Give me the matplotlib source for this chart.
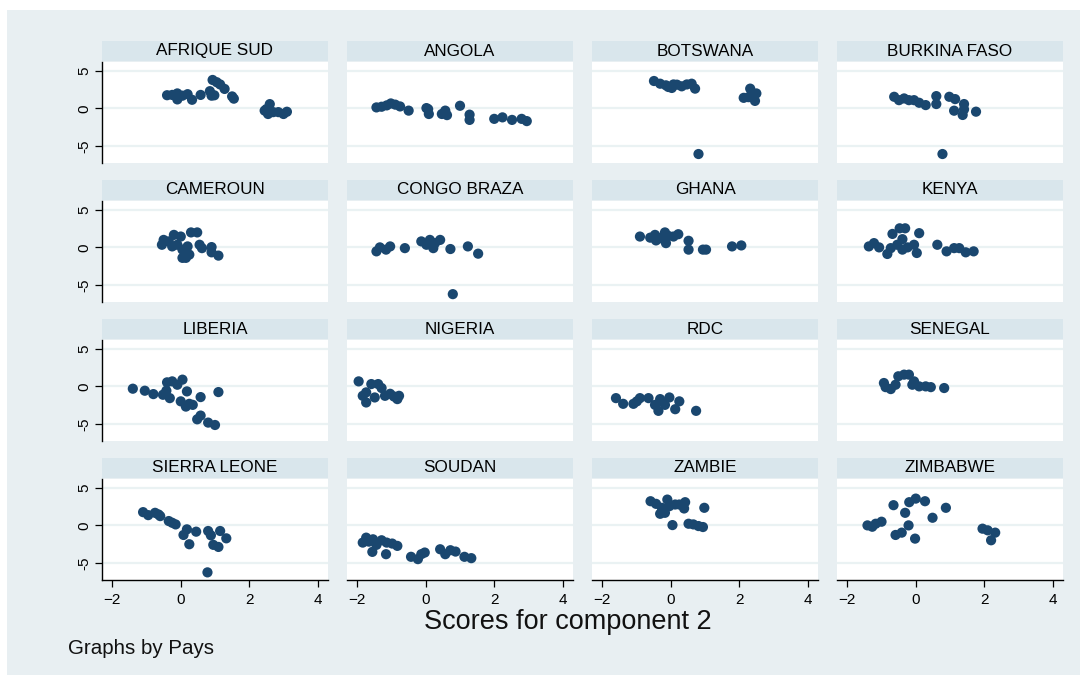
import matplotlib
matplotlib.use("Agg")
import matplotlib.pyplot as plt
from matplotlib.patches import Rectangle

plt.rcParams['font.family'] = ['Liberation Sans', 'DejaVu Sans']

countries = ["AFRIQUE SUD", "ANGOLA", "BOTSWANA", "BURKINA FASO",
             "CAMEROUN", "CONGO BRAZA", "GHANA", "KENYA",
             "LIBERIA", "NIGERIA", "RDC", "SENEGAL",
             "SIERRA LEONE", "SOUDAN", "ZAMBIE", "ZIMBABWE"]

afrique_sud_x = [-0.4, -0.25, -0.1, -0.1, 0.05, 0.2, 0.33, 0.58, 0.85, 0.9, 0.98, 0.93, 1.05, 1.15, 1.28, 1.5, 1.55,
                 2.5, 2.6, 2.55, 2.7, 2.85, 3.0, 3.1, 2.45]
afrique_sud_y = [1.76, 1.8, 2.0, 1.2, 1.7, 1.9, 1.15, 1.8, 2.3, 1.7, 1.75, 3.8, 3.5, 3.2, 2.6, 1.6, 1.3,
                 -0.1, 0.57, -0.75, -0.5, -0.5, -0.75, -0.45, -0.3]
angola_x = [-1.44, -1.29, -1.14, -1.02, -0.89, -0.75, -0.5, 0.02, 0.09, 0.07, 0.47, 0.57, 0.62, 1.0, 1.28, 1.28,
            2.0, 2.24, 2.52, 2.8, 2.95]
angola_y = [0.13, 0.22, 0.4, 0.66, 0.5, 0.26, -0.3, 0.04, -0.75, -0.1, -0.75, -0.3, -0.9, 0.35, -0.84, -1.54,
            -1.4, -1.2, -1.54, -1.4, -1.7]
botswana_x = [-0.49, -0.31, -0.14, 0.03, 0.18, 0.32, 0.47, 0.61, 0.71, -0.07, 0.08, 0.81,
              2.13, 2.32, 2.5, 2.46, 2.27, 2.37]
botswana_y = [3.66, 3.3, 3.08, 2.73, 3.17, 2.95, 3.2, 3.3, 2.64, 2.86, 3.2, -6.1,
              1.41, 2.64, 2.0, 1.0, 1.5, 1.8]
burkina_x = [-0.63, -0.49, -0.34, -0.2, -0.05, 0.1, 0.29, 0.6, 0.6, 0.98, 1.15, 1.41, 1.41, 1.12, 1.37, 1.76, 0.78]
burkina_y = [1.55, 1.1, 1.33, 1.1, 1.1, 0.75, 0.44, 1.64, 0.58, 1.55, 1.24, 0.58, -0.13, -0.31, -0.88, -0.44, -6.1]
cameroun_x = [-0.55, -0.5, -0.35, -0.2, 0.0, -0.25, -0.1, 0.05, 0.15, 0.25, 0.3, 0.48, 0.55, 0.62, 0.9, 0.9, 1.1,
              0.2, 0.05]
cameroun_y = [0.35, 1.0, 0.8, 1.67, 1.45, 0.13, 0.35, -0.3, -1.4, -0.97, 2.0, 2.0, 0.35, -0.1, 0.04, -0.66, -1.1,
              0.13, -1.4]
congo_x = [-1.44, -1.34, -1.16, -1.04, -0.61, -0.13, 0.02, 0.12, 0.22, 0.27, 0.42, 0.72, 1.23, 1.53, 0.79]
congo_y = [-0.53, 0.0, -0.3, 0.13, -0.1, 0.8, 0.35, 1.0, -0.1, 0.57, 1.0, -0.22, 0.13, -0.84, -6.25]
ghana_x = [-0.9, -0.6, -0.46, -0.31, -0.17, -0.14, -0.07, 0.08, 0.22, -0.43, 0.52, 0.52, 0.94, 1.03, 1.79, 2.06]
ghana_y = [1.45, 1.3, 1.67, 1.23, 2.0, 0.57, 1.54, 1.45, 1.76, 0.93, 0.88, -0.3, -0.3, -0.3, 0.13, 0.26]
kenya_x = [-1.37, -1.22, -1.07, -0.83, -0.73, -0.68, -0.54, -0.47, -0.31, -0.39, -0.39, -0.24, -0.05, 0.03, 0.1,
           0.63, 0.9, 1.12, 1.27, 1.46, 1.69]
kenya_y = [0.13, 0.57, 0.0, -0.88, -0.1, 1.8, 0.35, 2.55, 2.55, 1.1, -0.3, 0.0, 0.35, -0.75, 1.9,
           0.35, -0.53, -0.1, -0.1, -0.66, -0.53]
liberia_x = [-1.4, -1.05, -0.8, -0.52, -0.42, -0.32, -0.4, -0.25, -0.1, 0.05, 0.18, 0.0, 0.15, 0.25, 0.35, 0.58,
             0.48, 0.58, 0.8, 1.0, 1.1]
liberia_y = [-0.31, -0.58, -1.03, -1.12, -0.58, -1.57, 0.54, 0.67, 0.22, 0.9, -0.67, -2.0, -2.7, -2.33, -2.47, -1.43,
             -4.4, -3.9, -4.84, -5.16, -0.76]
nigeria_x = [-1.96, -1.84, -1.74, -1.74, -1.59, -1.49, -1.39, -1.29, -1.19, -1.04, -0.93, -0.83, -0.78]
nigeria_y = [0.67, -1.26, -2.15, -0.8, 0.31, -1.48, 0.31, -0.22, -1.26, -0.99, -1.35, -1.7, -1.26]
rdc_x = [-1.6, -1.39, -1.09, -0.99, -0.9, -0.65, -0.46, -0.36, -0.31, -0.17, -0.04, 0.13, 0.25, 0.74]
rdc_y = [-1.57, -2.33, -2.33, -2.0, -1.57, -1.57, -2.47, -3.27, -1.7, -2.47, -1.48, -3.05, -2.0, -3.27]
senegal_x = [-0.93, -0.88, -0.73, -0.59, -0.51, -0.34, -0.2, -0.05, -0.1, 0.1, 0.29, 0.44, 0.83]
senegal_y = [0.45, -0.1, -0.36, 0.22, 1.35, 1.57, 1.57, 0.67, 0.22, 0.0, 0.0, -0.1, -0.22]
sierra_x = [-1.1, -0.95, -0.75, -0.6, -0.65, -0.35, -0.25, -0.15, 0.08, 0.18, 0.25, 0.45, 0.8, 0.88, 0.95, 1.1,
            1.15, 1.33, 0.78]
sierra_y = [1.77, 1.37, 1.68, 1.24, 1.46, 0.58, 0.35, 0.13, -1.28, -0.53, -2.52, -0.84, -0.75, -1.33, -2.6, -2.88,
            -0.75, -1.73, -6.28]
soudan_x = [-1.84, -1.74, -1.66, -1.54, -1.56, -1.44, -1.29, -1.14, -1.16, -0.98, -0.83, -0.43, -0.23, -0.13, -0.03,
            0.42, 0.57, 0.72, 0.87, 1.13, 1.33]
soudan_y = [-2.3, -1.64, -2.17, -1.86, -3.54, -2.6, -1.99, -2.3, -3.85, -2.43, -2.74, -4.2, -4.51, -3.85, -3.63,
            -3.19, -3.85, -3.32, -3.5, -4.2, -4.38]
zambie_x = [-0.59, -0.43, -0.31, -0.26, -0.17, -0.1, -0.04, 0.13, 0.25, 0.39, 0.42, 0.98, 0.05, 0.52, 0.66, 0.81,
            0.94]
zambie_y = [3.23, 2.88, 1.55, 2.35, 1.68, 3.45, 2.57, 2.79, 2.79, 2.26, 3.1, 2.35, 0.04, 0.22, 0.13, -0.09, -0.22]
zimbabwe_x = [-1.41, -1.27, -1.17, -1.0, -0.65, -0.59, -0.41, -0.31, -0.21, -0.19, -0.02, 0.0, 0.27, 0.49, 0.88,
              1.95, 2.1, 2.2, 2.32]
zimbabwe_y = [0.0, -0.18, 0.22, 0.49, 2.7, -1.28, -0.97, 1.68, 0.0, 3.1, -1.77, 3.58, 3.23, 1.02, 2.35,
              -0.44, -0.66, -1.99, -0.97]

series = [(afrique_sud_x, afrique_sud_y), (angola_x, angola_y), (botswana_x, botswana_y), (burkina_x, burkina_y),
          (cameroun_x, cameroun_y), (congo_x, congo_y), (ghana_x, ghana_y), (kenya_x, kenya_y),
          (liberia_x, liberia_y), (nigeria_x, nigeria_y), (rdc_x, rdc_y), (senegal_x, senegal_y),
          (sierra_x, sierra_y), (soudan_x, soudan_y), (zambie_x, zambie_y), (zimbabwe_x, zimbabwe_y)]

x_ticks = [-2, 0, 2, 4]
y_ticks = [-5, 0, 5]

W, H = 1086, 677
fig = plt.figure(figsize=(W / 100, H / 100), dpi=100)
fig.patch.set_facecolor('white')
bg = '#e8eff2'
fig.patches.append(Rectangle((7 / W, 1 - 675 / H), (1080 - 7) / W, (675 - 10) / H,
                             transform=fig.transFigure, facecolor=bg, edgecolor='none', zorder=-10))

col_left = [102, 347, 592, 837]
panel_w = 226
hdr_top = [41, 180, 319, 458]
hdr_h = 20
plot_h = 101
marker_color = '#1a476f'

def fbox(x, y, w, h):
    return [x / W, 1 - (y + h) / H, w / W, h / H]

for i, name in enumerate(countries):
    r, c = divmod(i, 4)
    x0 = col_left[c]
    # header
    hax = fig.add_axes(fbox(x0, hdr_top[r], panel_w, hdr_h))
    hax.set_facecolor('#d9e6ec')
    hax.set_xticks([]); hax.set_yticks([])
    for s in hax.spines.values():
        s.set_visible(False)
    hax.text(0.5, 0.5, name, ha='center', va='center', fontsize=12.3, color='#000000',
             transform=hax.transAxes)
    # plot
    ax = fig.add_axes(fbox(x0, hdr_top[r] + hdr_h + 1, panel_w, plot_h))
    ax.set_facecolor('white')
    ax.set_xlim(-2.3, 4.3)
    ax.set_ylim(-7.3, 6.2)
    for yv in y_ticks:
        ax.axhline(yv, color='#eaf2f3', lw=1.6, zorder=1)
    xs, ys = series[i]
    ax.scatter(xs, ys, s=54, color=marker_color, edgecolors='none', zorder=3)
    for s in ax.spines.values():
        s.set_visible(False)
    ax.set_xticks(x_ticks)
    ax.set_yticks(y_ticks)
    if c == 0:
        ax.spines['left'].set_visible(True)
        ax.spines['left'].set_color('#000000')
        ax.spines['left'].set_linewidth(1.0)
        ax.tick_params(axis='y', length=5, width=0.9, labelsize=11, pad=3)
        ax.set_yticklabels([str(v) for v in y_ticks], rotation=90, va='center')
    else:
        ax.tick_params(axis='y', left=False, labelleft=False)
    if r == 3:
        ax.spines['bottom'].set_visible(True)
        ax.spines['bottom'].set_color('#000000')
        ax.spines['bottom'].set_linewidth(1.0)
        ax.tick_params(axis='x', length=5, width=0.9, labelsize=11, pad=4)
    else:
        ax.tick_params(axis='x', bottom=False, labelbottom=False)

fig.text(568 / W, 1 - 622 / H, "Scores for component 2", ha='center', va='center', fontsize=19.5, color='#111111')
fig.text(68 / W, 1 - 648 / H, "Graphs by Pays", ha='left', va='center', fontsize=14.8, color='#111111')

fig.savefig("out.png", dpi=100, facecolor=fig.get_facecolor())
